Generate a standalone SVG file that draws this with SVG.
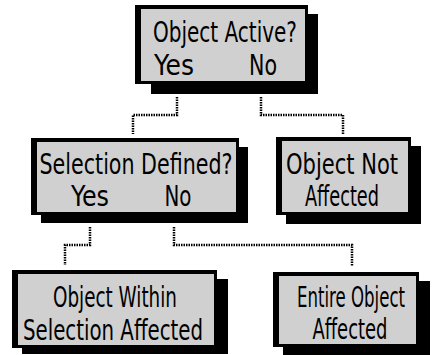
<svg xmlns="http://www.w3.org/2000/svg" width="439" height="355" viewBox="0 0 439 355">
  <style>
    .shadow { fill: #000; }
    .frame { fill: #000; }
    .face { fill: #d0d0d0; }
    .label { font-family: "DejaVu Sans Condensed", "Liberation Sans Narrow", "Liberation Sans", sans-serif; font-size: 28px; fill: #000; text-anchor: middle; }
    .link { fill: none; stroke: #000; stroke-width: 2.5; stroke-dasharray: 1.5 1; }
  </style>

  <rect width="439" height="355" fill="#fff"/>

  <!-- connectors -->
  <g id="connectors">
    <polyline class="link" points="177,97 177,115 133,115 133,134"/>
    <polyline class="link" points="261,97 261,115 343,115 343,134"/>
    <polyline class="link" points="90,227 90,245 65,245 65,265"/>
    <polyline class="link" points="174,227 174,245 352,245 352,266"/>
  </g>

  <!-- decision: object active -->
  <g id="object-active">
    <rect class="shadow" x="151" y="14" width="167" height="80"/>
    <rect class="frame" x="135" y="5" width="173" height="79"/>
    <rect class="face" x="141" y="9" width="164" height="72"/>
    <text class="label" x="225" y="42" textLength="144" lengthAdjust="spacingAndGlyphs">Object Active?</text>
    <text class="label" x="174" y="75" textLength="40" lengthAdjust="spacingAndGlyphs">Yes</text>
    <text class="label" x="263" y="75" textLength="28" lengthAdjust="spacingAndGlyphs">No</text>
  </g>

  <!-- decision: selection defined -->
  <g id="selection-defined">
    <rect class="shadow" x="41" y="147" width="207" height="76"/>
    <rect class="frame" x="31" y="138" width="208" height="77"/>
    <rect class="face" x="37" y="142" width="199" height="70"/>
    <text class="label" x="136" y="174" textLength="193" lengthAdjust="spacingAndGlyphs">Selection Defined?</text>
    <text class="label" x="90" y="206" textLength="38" lengthAdjust="spacingAndGlyphs">Yes</text>
    <text class="label" x="178" y="206" textLength="27" lengthAdjust="spacingAndGlyphs">No</text>
  </g>

  <!-- outcome: object not affected -->
  <g id="object-not-affected">
    <rect class="shadow" x="286" y="146" width="135" height="78"/>
    <rect class="frame" x="276" y="137" width="135" height="78"/>
    <rect class="face" x="282" y="141" width="126" height="71"/>
    <text class="label" x="342" y="174" textLength="112" lengthAdjust="spacingAndGlyphs">Object Not</text>
    <text class="label" x="342" y="206" textLength="74" lengthAdjust="spacingAndGlyphs">Affected</text>
  </g>

  <!-- outcome: object within selection affected -->
  <g id="object-within-selection">
    <rect class="shadow" x="22" y="279" width="206" height="75"/>
    <rect class="frame" x="12" y="270" width="205" height="78"/>
    <rect class="face" x="18" y="274" width="196" height="71"/>
    <text class="label" x="115" y="307" textLength="124" lengthAdjust="spacingAndGlyphs">Object Within</text>
    <text class="label" x="113" y="340" textLength="180" lengthAdjust="spacingAndGlyphs">Selection Affected</text>
  </g>

  <!-- outcome: entire object affected -->
  <g id="entire-object-affected">
    <rect class="shadow" x="283" y="281" width="147" height="74"/>
    <rect class="frame" x="273" y="272" width="146" height="75"/>
    <rect class="face" x="279" y="276" width="137" height="68"/>
    <text class="label" x="351" y="307" textLength="108" lengthAdjust="spacingAndGlyphs">Entire Object</text>
    <text class="label" x="350" y="339" textLength="75" lengthAdjust="spacingAndGlyphs">Affected</text>
  </g>
</svg>
